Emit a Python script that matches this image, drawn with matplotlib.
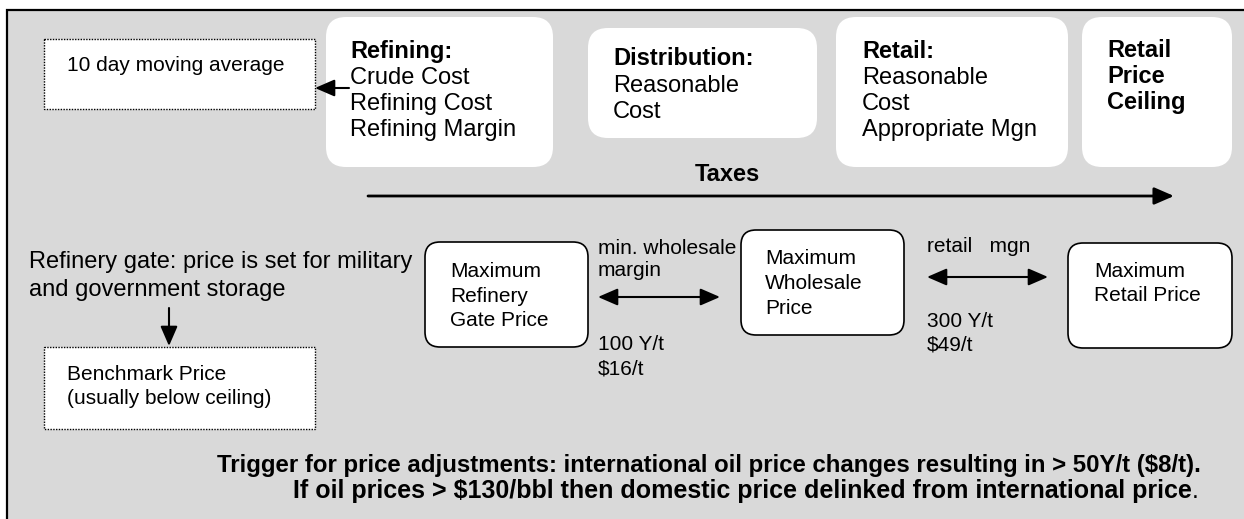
import matplotlib
matplotlib.use("Agg")
import matplotlib.pyplot as plt
from matplotlib.patches import FancyBboxPatch, FancyArrowPatch, Rectangle

plt.rcParams['font.family'] = ['Liberation Sans', 'DejaVu Sans']

# text content of the diagram
moving_avg_label = "10 day moving average"
stage_titles = ["Refining:", "Distribution:", "Retail:"]
stage_lines = [["Crude Cost", "Refining Cost", "Refining Margin"],
               ["Reasonable", "Cost"],
               ["Reasonable", "Cost", "Appropriate Mgn"]]
ceiling_lines = ["Retail", "Price", "Ceiling"]
taxes_label = "Taxes"
gate_note = ["Refinery gate: price is set for military", "and government storage"]
benchmark_lines = ["Benchmark Price", "(usually below ceiling)"]
price_boxes = [["Maximum", "Refinery", "Gate Price"],
               ["Maximum", "Wholesale", "Price"],
               ["Maximum", "Retail Price"]]
margin_names = [["min. wholesale", "margin"], ["retail   mgn"]]
margin_values = [["100 Y/t", "$16/t"], ["300 Y/t", "$49/t"]]
trigger_lines = ["Trigger for price adjustments: international oil price changes resulting in > 50Y/t ($8/t).",
                 "If oil prices > $130/bbl then domestic price delinked from international price"]

fig = plt.figure(figsize=(12.44, 5.19), dpi=100)
ax = fig.add_axes([0, 0, 1, 1])
ax.set_xlim(0, 1244)
ax.set_ylim(519, 0)
ax.axis('off')

# grey panel
ax.add_patch(Rectangle((7, 10), 1250, 530, facecolor='#d9d9d9', edgecolor='black', lw=1.6))


def rbox(x0, y0, x1, y1, r, edge=None, lw=1.1, ls='-'):
    p = FancyBboxPatch((x0, y0), x1 - x0, y1 - y0,
                       boxstyle="round,pad=0,rounding_size=%s" % r if r else "square,pad=0",
                       facecolor='white', edgecolor=edge if edge else 'none', lw=lw, linestyle=ls)
    ax.add_patch(p)


def arrow(x0, y0, x1, y1, style='-|>', lw=1.5):
    a = FancyArrowPatch((x0, y0), (x1, y1), arrowstyle=style + ',head_length=0.6,head_width=0.26',
                        mutation_scale=20, lw=lw, color='black', shrinkA=0, shrinkB=0)
    ax.add_patch(a)


def lines(x, y0, step, items, size, bold_first=False, weight='normal'):
    for i, s in enumerate(items):
        w = 'bold' if (bold_first and i == 0) or weight == 'bold' else 'normal'
        ax.text(x, y0 + i * step, s, fontsize=size, fontweight=w, va='baseline', ha='left')


# top stage boxes
rbox(326, 17, 553, 167, 20)
rbox(588, 28, 817, 138, 20)
rbox(836, 17, 1068, 167, 20)
rbox(1082, 17, 1232, 167, 20)
lines(350, 58, 26, [stage_titles[0]] + stage_lines[0], 17, bold_first=True)
lines(613, 65, 26.5, [stage_titles[1]] + stage_lines[1], 17, bold_first=True)
lines(862, 58, 26, [stage_titles[2]] + stage_lines[2], 17, bold_first=True)
lines(1107, 57, 26, ceiling_lines, 17, weight='bold')

# dotted boxes
rbox(44, 39, 315, 109, 0, edge='black', lw=1.0, ls=(0, (1, 1)))
rbox(44, 347, 315, 429, 0, edge='black', lw=1.0, ls=(0, (1, 1)))
ax.text(67, 71, moving_avg_label, fontsize=15, va='baseline')
lines(67, 380, 24, benchmark_lines, 15)

arrow(349, 88, 315, 88)

# taxes
ax.text(727, 181, taxes_label, fontsize=17, fontweight='bold', ha='center', va='baseline')
arrow(368, 196, 1174, 196, lw=2)

# refinery gate note
lines(29, 268, 28, gate_note, 17)
arrow(169, 308, 169, 346)

# price boxes
rbox(425, 242, 588, 347, 15, edge='black', lw=1.2)
rbox(741, 230, 904, 335, 15, edge='black', lw=1.2)
rbox(1068, 243, 1232, 348, 15, edge='black', lw=1.2)
lines(450, 277, 24.5, price_boxes[0], 15)
lines(765, 264, 25, price_boxes[1], 15)
lines(1094, 277, 24, price_boxes[2], 15)

# margins
lines(598, 254, 22, margin_names[0], 15)
lines(598, 350, 24, margin_values[0], 15)
arrow(598, 297, 720, 297, style='<|-|>')
lines(927, 252, 24, margin_names[1], 15)
lines(927, 327, 23, margin_values[1], 15)
arrow(927, 277, 1048, 277, style='<|-|>')

# trigger note
ax.text(217, 472, trigger_lines[0], fontsize=17.3, fontweight='bold', va='baseline')
t2 = ax.text(293, 498, trigger_lines[1], fontsize=18, fontweight='bold', va='baseline')
ax.annotate('.', xy=(1, 0), xycoords=t2, fontsize=18, va='bottom', ha='left')

fig.savefig('out.png', dpi=100)
